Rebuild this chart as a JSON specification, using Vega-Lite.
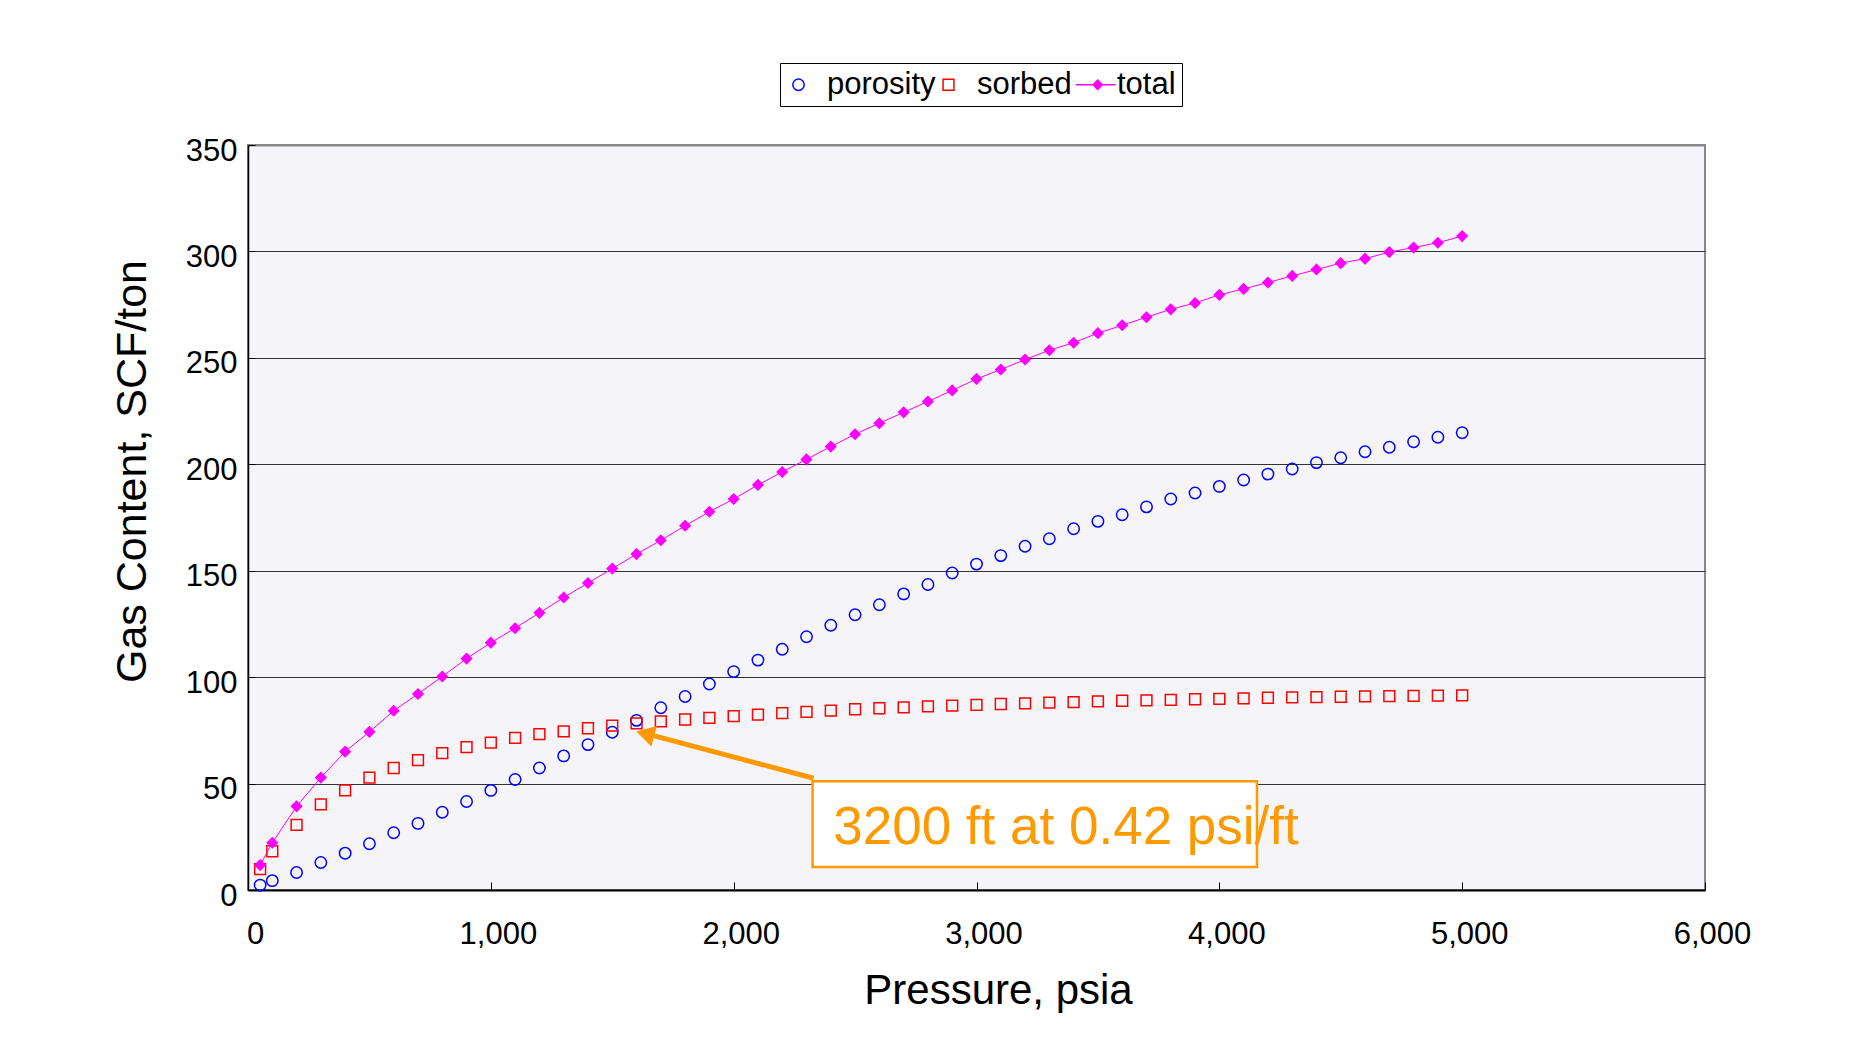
{
  "$schema": "https://vega.github.io/schema/vega-lite/v6.json",
  "width": 1457,
  "height": 745,
  "autosize": {"type": "none"},
  "padding": {"left": 248, "top": 145, "right": 153, "bottom": 173},
  "background": "white",
  "config": {
    "font": "Liberation Sans",
    "view": {"fill": "#F4F4F9", "stroke": "#888888", "strokeWidth": 2},
    "legend": {
      "orient": "none",
      "legendX": 532,
      "legendY": -82,
      "direction": "horizontal",
      "labelFont": "Liberation Sans",
      "labelFontSize": 31,
      "labelColor": "#000000",
      "strokeColor": "#000000",
      "fillColor": "#FFFFFF",
      "padding": 6,
      "symbolStrokeWidth": 1.5,
      "symbolOffset": -3,
      "labelOffset": 13,
      "columnPadding": 0
    }
  },
  "datasets": {
    "gas": [
      {"p": 50, "porosity": 2.3, "sorbed": 9.8, "total": 11.7},
      {"p": 100, "porosity": 4.4, "sorbed": 18.2, "total": 22.2},
      {"p": 200, "porosity": 8.2, "sorbed": 30.6, "total": 39.3},
      {"p": 300, "porosity": 12.9, "sorbed": 40.2, "total": 52.8},
      {"p": 400, "porosity": 17.3, "sorbed": 46.8, "total": 65.0},
      {"p": 500, "porosity": 21.7, "sorbed": 52.8, "total": 74.3},
      {"p": 600, "porosity": 26.9, "sorbed": 57.3, "total": 84.2},
      {"p": 700, "porosity": 31.3, "sorbed": 61.0, "total": 92.1},
      {"p": 800, "porosity": 36.5, "sorbed": 64.3, "total": 100.3},
      {"p": 900, "porosity": 41.6, "sorbed": 67.1, "total": 108.7},
      {"p": 1000, "porosity": 46.8, "sorbed": 69.2, "total": 116.2},
      {"p": 1100, "porosity": 51.9, "sorbed": 71.5, "total": 123.0},
      {"p": 1200, "porosity": 57.3, "sorbed": 73.2, "total": 130.2},
      {"p": 1300, "porosity": 63.0, "sorbed": 74.5, "total": 137.4},
      {"p": 1400, "porosity": 68.3, "sorbed": 76.0, "total": 144.2},
      {"p": 1500, "porosity": 74.1, "sorbed": 77.2, "total": 151.0},
      {"p": 1600, "porosity": 79.7, "sorbed": 78.3, "total": 157.8},
      {"p": 1700, "porosity": 85.6, "sorbed": 79.2, "total": 164.3},
      {"p": 1800, "porosity": 90.9, "sorbed": 80.1, "total": 171.1},
      {"p": 1900, "porosity": 96.8, "sorbed": 80.9, "total": 177.7},
      {"p": 2000, "porosity": 102.6, "sorbed": 81.7, "total": 183.7},
      {"p": 2100, "porosity": 108.0, "sorbed": 82.4, "total": 190.3},
      {"p": 2200, "porosity": 113.1, "sorbed": 83.1, "total": 196.4},
      {"p": 2300, "porosity": 119.0, "sorbed": 83.7, "total": 202.3},
      {"p": 2400, "porosity": 124.4, "sorbed": 84.3, "total": 208.3},
      {"p": 2500, "porosity": 129.3, "sorbed": 84.9, "total": 214.1},
      {"p": 2600, "porosity": 134.0, "sorbed": 85.4, "total": 219.3},
      {"p": 2700, "porosity": 139.1, "sorbed": 85.8, "total": 224.4},
      {"p": 2800, "porosity": 143.5, "sorbed": 86.3, "total": 229.5},
      {"p": 2900, "porosity": 148.9, "sorbed": 86.6, "total": 234.7},
      {"p": 3000, "porosity": 153.1, "sorbed": 87.0, "total": 240.1},
      {"p": 3100, "porosity": 157.1, "sorbed": 87.4, "total": 244.5},
      {"p": 3200, "porosity": 161.5, "sorbed": 87.7, "total": 249.2},
      {"p": 3300, "porosity": 165.0, "sorbed": 88.0, "total": 253.6},
      {"p": 3400, "porosity": 169.7, "sorbed": 88.3, "total": 257.1},
      {"p": 3500, "porosity": 173.2, "sorbed": 88.6, "total": 261.6},
      {"p": 3600, "porosity": 176.3, "sorbed": 88.9, "total": 265.3},
      {"p": 3700, "porosity": 180.0, "sorbed": 89.1, "total": 269.1},
      {"p": 3800, "porosity": 183.7, "sorbed": 89.3, "total": 272.8},
      {"p": 3900, "porosity": 186.5, "sorbed": 89.6, "total": 275.8},
      {"p": 4000, "porosity": 189.6, "sorbed": 89.8, "total": 279.6},
      {"p": 4100, "porosity": 192.6, "sorbed": 90.0, "total": 282.4},
      {"p": 4200, "porosity": 195.4, "sorbed": 90.3, "total": 285.4},
      {"p": 4300, "porosity": 197.8, "sorbed": 90.5, "total": 288.5},
      {"p": 4400, "porosity": 200.8, "sorbed": 90.6, "total": 291.5},
      {"p": 4500, "porosity": 203.1, "sorbed": 90.8, "total": 294.5},
      {"p": 4600, "porosity": 205.9, "sorbed": 91.0, "total": 296.6},
      {"p": 4700, "porosity": 208.0, "sorbed": 91.1, "total": 299.7},
      {"p": 4800, "porosity": 210.6, "sorbed": 91.2, "total": 301.8},
      {"p": 4900, "porosity": 212.7, "sorbed": 91.3, "total": 304.1},
      {"p": 5000, "porosity": 214.8, "sorbed": 91.4, "total": 307.2}
    ],
    "arrow": [{"x": 2329, "y": 52.5, "x2": 1670, "y2": 72.5}],
    "arrowhead": [{"x": 1636, "y": 73.4}],
    "box": [{"x": 2325, "x2": 4155, "y": 51.1, "y2": 10.8}],
    "note": [{"x": 2410, "y": 21.8, "text": "3200 ft at 0.42 psi/ft"}]
  },
  "layer": [
    {
      "data": {"name": "gas"},
      "mark": {"type": "line", "color": "#FF00FF", "strokeWidth": 1},
      "encoding": {
        "x": {
          "field": "p", "type": "quantitative",
          "title": "Pressure, psia",
          "scale": {"domain": [0, 6000], "nice": false, "zero": false},
          "axis": {
            "title": "Pressure, psia",
            "values": [0, 1000, 2000, 3000, 4000, 5000, 6000],
            "format": ",.0f",
            "grid": false,
            "domainColor": "#000000", "domainWidth": 2,
            "tickColor": "#000000", "tickSize": -8, "tickWidth": 1,
            "labelFont": "Liberation Sans", "labelFontSize": 31, "labelColor": "#000000",
            "labelPadding": 37, "labelOffset": 7, "labelFlush": false, "labelOverlap": false,
            "titleFont": "Liberation Sans", "titleFontSize": 42, "titleFontWeight": "normal", "titleColor": "#000000",
            "titleX": 750, "titleY": 113, "titleBaseline": "alphabetic", "titleAlign": "center"
          }
        },
        "y": {
          "field": "total", "type": "quantitative",
          "title": "Gas Content, SCF/ton",
          "scale": {"domain": [0, 350], "nice": false, "zero": false},
          "axis": {
            "title": "Gas Content, SCF/ton",
            "values": [0, 50, 100, 150, 200, 250, 300, 350],
            "grid": true,
            "gridColor": {"condition": {"test": "datum.value === 350", "value": "#888888"}, "value": "#333333"},
            "gridWidth": {"condition": {"test": "datum.value === 350", "value": 2}, "value": 1},
            "domainColor": "#000000", "domainWidth": 1.5,
            "tickColor": "#000000", "tickSize": -7, "tickWidth": 1,
            "labelFont": "Liberation Sans", "labelFontSize": 31, "labelColor": "#000000",
            "labelPadding": 18, "labelOffset": 6, "labelFlush": false, "labelOverlap": false,
            "titleFont": "Liberation Sans", "titleFontSize": 43, "titleFontWeight": "normal", "titleColor": "#000000",
            "titleX": -103, "titleY": 326, "titleAngle": -90, "titleBaseline": "alphabetic", "titleAlign": "center"
          }
        }
      }
    },
    {
      "data": {"name": "gas"},
      "transform": [
        {"fold": ["porosity", "sorbed", "total"], "as": ["series", "value"]},
        {"filter": "datum.series !== 'total'"}
      ],
      "mark": {"type": "point", "filled": true, "opacity": 1, "strokeWidth": 1.5},
      "encoding": {
        "x": {"field": "p", "type": "quantitative", "title": "Pressure, psia"},
        "y": {"field": "value", "type": "quantitative", "title": "Gas Content, SCF/ton"},
        "shape": {
          "field": "series", "type": "nominal",
          "scale": {"domain": ["porosity", "sorbed", "total"], "range": ["circle", "square", "M-2.5,0L5.3,0M1.8,-0.9L2.7,0L1.8,0.9L0.9,0Z"]},
          "legend": {"title": null}
        },
        "stroke": {
          "field": "series", "type": "nominal",
          "scale": {"domain": ["porosity", "sorbed", "total"], "range": ["#0000FF", "#FF0000", "#FF00FF"]},
          "legend": {"title": null}
        },
        "fill": {
          "field": "series", "type": "nominal",
          "scale": {"domain": ["porosity", "sorbed", "total"], "range": ["transparent", "transparent", "#FF00FF"]},
          "legend": {"title": null}
        },
        "size": {
          "field": "series", "type": "nominal",
          "scale": {"domain": ["porosity", "sorbed", "total"], "range": [130, 105, 100]},
          "legend": {"title": null}
        }
      }
    },
    {
      "data": {"name": "gas"},
      "mark": {"type": "point", "shape": "diamond", "filled": true, "opacity": 1, "color": "#FF00FF", "stroke": "#FF00FF", "strokeWidth": 1.5, "size": 100},
      "encoding": {
        "x": {"field": "p", "type": "quantitative", "title": "Pressure, psia"},
        "y": {"field": "total", "type": "quantitative", "title": "Gas Content, SCF/ton"}
      }
    },
    {
      "data": {"name": "arrow"},
      "mark": {"type": "rule", "color": "#FF9900", "strokeWidth": 5},
      "encoding": {
        "x": {"field": "x", "type": "quantitative", "title": "Pressure, psia"},
        "y": {"field": "y", "type": "quantitative", "title": "Gas Content, SCF/ton"},
        "x2": {"field": "x2"},
        "y2": {"field": "y2"}
      }
    },
    {
      "data": {"name": "arrowhead"},
      "mark": {"type": "point", "shape": "triangle-left", "angle": 15, "size": 450, "filled": true, "color": "#FF9900", "opacity": 1},
      "encoding": {
        "x": {"field": "x", "type": "quantitative", "title": "Pressure, psia"},
        "y": {"field": "y", "type": "quantitative", "title": "Gas Content, SCF/ton"}
      }
    },
    {
      "data": {"name": "box"},
      "mark": {"type": "rect", "fill": "#FFFFFF", "stroke": "#FF9900", "strokeWidth": 2.5},
      "encoding": {
        "x": {"field": "x", "type": "quantitative", "title": "Pressure, psia"},
        "x2": {"field": "x2"},
        "y": {"field": "y", "type": "quantitative", "title": "Gas Content, SCF/ton"},
        "y2": {"field": "y2"}
      }
    },
    {
      "data": {"name": "note"},
      "mark": {"type": "text", "color": "#FF9900", "fontSize": 53, "font": "Liberation Sans", "align": "left", "baseline": "alphabetic"},
      "encoding": {
        "x": {"field": "x", "type": "quantitative", "title": "Pressure, psia"},
        "y": {"field": "y", "type": "quantitative", "title": "Gas Content, SCF/ton"},
        "text": {"field": "text"}
      }
    }
  ]
}
